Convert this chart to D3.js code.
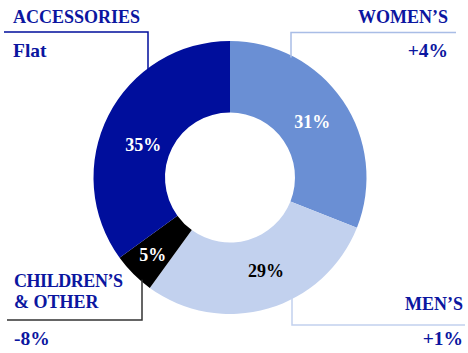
<!DOCTYPE html>
<html>
<head>
<meta charset="utf-8">
<script src="https://cdn.jsdelivr.net/npm/d3@7"></script>
<style>
  body { margin: 0; background: #fff; }
  svg text { font-family: "Liberation Serif", serif; font-weight: bold; }
</style>
</head>
<body>
<div id="chart"></div>
<script>
// datos del gráfico (sentido horario desde arriba)
const categories = ["WOMEN’S", "MEN’S", "CHILDREN’S\n& OTHER", "ACCESSORIES"];
const shares = [31, 29, 5, 35];
const changes = ["+4%", "+1%", "-8%", "Flat"];

const colors = ["#6a8fd4", "#c2d1ee", "#000000", "#000e9c"];
const lineColors = ["#a9bde6", "#c2d1ee", "#333333", "#000e9c"];
const pctColors = ["#fff", "#000", "#fff", "#fff"];

const width = 468, height = 353;
const cx = 230, cy = 177.5;
const outerR = 136.5, innerR = 65;

const svg = d3.select("#chart").append("svg")
  .attr("width", width)
  .attr("height", height);

const g = svg.append("g").attr("transform", `translate(${cx},${cy})`);

const pie = d3.pie().sort(null).value(d => d);
const arcs = pie(shares);
const arc = d3.arc().innerRadius(innerR).outerRadius(outerR);

// posición de las etiquetas (layout)
const layout = [
  { side: "right", x: 448, titleY: 23, lineY: 32.5, lineX: 291, lineEnd: 456, valueY: 57, pctDx: -1, pctDy: 1 },
  { side: "right", x: 463, titleY: 310, lineY: 325, lineX: 292, lineEnd: 465, valueY: 345, pctDx: 8, pctDy: -4 },
  { side: "left", x: 14, titleY: 287, lineY: 320, lineX: 142, lineEnd: 7, valueY: 345, pctDx: -6, pctDy: 6 },
  { side: "left", x: 13, titleY: 23, lineY: 32, lineX: 148, lineEnd: 4, valueY: 57, pctDx: 3, pctDy: 13 }
];

// líneas guía (detrás del donut)
const guides = svg.append("g");
arcs.forEach((a, i) => {
  const L = layout[i];
  const dx = L.lineX - cx;
  const h = Math.sqrt(outerR * outerR - dx * dx);
  const edgeY = L.lineY < cy ? cy - h + 2 : cy + h - 2;
  guides.append("path")
    .attr("d", `M${L.lineEnd},${L.lineY}H${L.lineX}V${edgeY}`)
    .attr("fill", "none")
    .attr("stroke", lineColors[i])
    .attr("stroke-width", 1.5);
});

g.selectAll("path.slice")
  .data(arcs)
  .join("path")
  .attr("class", "slice")
  .attr("d", arc)
  .attr("fill", (d, i) => colors[i]);

// porcentajes dentro
g.selectAll("text.pct")
  .data(arcs)
  .join("text")
  .attr("class", "pct")
  .attr("x", (d, i) => arc.centroid(d)[0] + layout[i].pctDx)
  .attr("y", (d, i) => arc.centroid(d)[1] + layout[i].pctDy)
  .attr("dy", "0.35em")
  .attr("text-anchor", "middle")
  .attr("font-size", 18)
  .attr("fill", (d, i) => pctColors[i])
  .text(d => d.data + "%");

// títulos y variaciones
arcs.forEach((a, i) => {
  const L = layout[i];
  const anchor = L.side === "right" ? "end" : "start";
  const lines = categories[i].split("\n");
  const t = svg.append("text")
    .attr("x", L.x)
    .attr("y", L.titleY)
    .attr("text-anchor", anchor)
    .attr("font-size", 18)
    .attr("fill", "#0b16a0");
  lines.forEach((s, k) => {
    t.append("tspan").attr("x", L.x).attr("dy", k ? 21 : 0)
      .attr("textLength", k === 0 && lines.length > 1 ? 109 : null)
      .text(s);
  });
  svg.append("text")
    .attr("x", L.x)
    .attr("y", L.valueY)
    .attr("text-anchor", anchor)
    .attr("font-size", 19.5)
    .attr("fill", "#0b16a0")
    .text(changes[i]);
});
</script>
</body>
</html>
